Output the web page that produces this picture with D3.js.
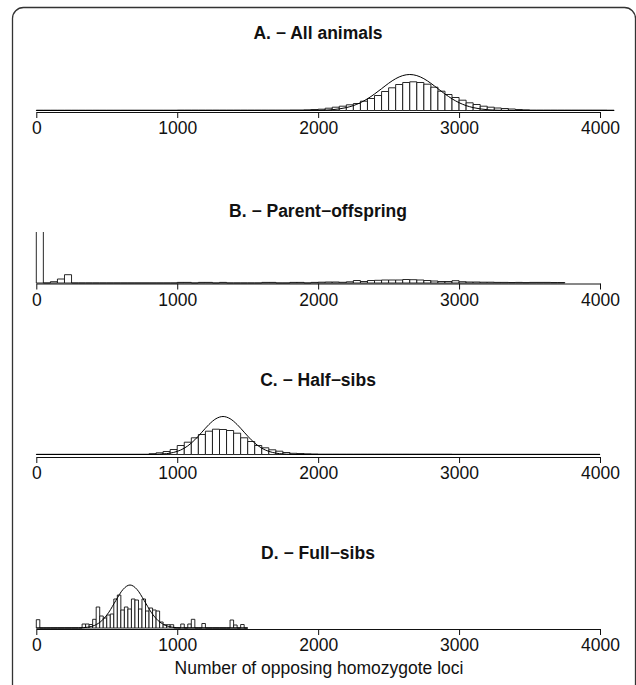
<!DOCTYPE html>
<html>
<head>
<meta charset="utf-8">
<script src="https://cdn.jsdelivr.net/npm/d3@7"></script>
<style>
  body { margin: 0; background: #fff; }
  svg { display: block; font-family: "Liberation Sans", Arial, sans-serif; }
</style>
</head>
<body>
<div class="chart"></div>
<script>
// Data (bar heights are relative frequencies)
const titles = ["A. \u2212 All animals", "B. \u2212 Parent\u2212offspring", "C. \u2212 Half\u2212sibs", "D. \u2212 Full\u2212sibs"];
const tickValues = [0, 1000, 2000, 3000, 4000];
const xLabel = "Number of opposing homozygote loci";

// A - all animals, bins of 50 starting at 0
const binWidthA = 50;
const freqA = [
  0.3, 0.3, 0.3, 0.3, 0.3, 0.3, 0.3, 0.3, 0.3, 0.3,
  0.3, 0.3, 0.3, 0.3, 0.3, 0.3, 0.3, 0.3, 0.3, 0.3,
  0.4, 0.4, 0.4, 0.4, 0.4, 0.4, 0.4, 0.4, 0.4, 0.4,
  0.4, 0.4, 0.4, 0.4, 0.4, 0.4, 0.5, 0.5, 0.7, 1.0,
  1.3, 2.3, 3.3, 4.3, 5.7, 7.0, 9.3, 12, 15, 19,
  22.7, 26, 28, 28.7, 28, 26.3, 23.3, 19.3, 16, 13,
  10.3, 7.7, 6, 4.3, 3.3, 2.5, 2, 1.5, 1, 0.7,
  0.4, 0.4, 0.4, 0.4, 0.4, 0.4, 0.4, 0.4, 0.4, 0.4,
  0.4, 0.3
];
const curveXA = [0, 1900, 2000, 2100, 2150, 2200, 2250, 2300, 2350, 2400, 2450, 2500, 2550, 2600, 2650,
  2700, 2750, 2800, 2850, 2900, 2950, 3000, 3050, 3100, 3150, 3200, 3300, 3400, 4100];
const curveYA = [0, 0.03, 0.18, 0.8, 1.6, 2.9, 4.9, 7.8, 11.7, 16.5, 21.8, 27.2, 31.8, 34.9, 36,
  34.9, 31.8, 27.2, 21.8, 16.5, 11.7, 7.8, 4.9, 2.9, 1.6, 0.8, 0.18, 0.03, 0];

// B - parent-offspring, bins of 50 starting at 0 (first bin is far off the scale)
const binWidthB = 50;
const freqB = [
  400, 0, 1.3, 4, 8.3, 0, 0, 0, 0, 0,
  0, 0, 0, 0, 0, 0, 0, 0, 0, 0,
  0.6, 0.6, 0, 0.6, 0.6, 0, 0.6, 0, 0, 0,
  0, 0, 0.6, 0.6, 0, 0, 0.6, 0.6, 0, 0.6,
  0.8, 1, 1, 0.7, 1.2, 2.5, 1.5, 2.5, 2.7, 3,
  3, 3, 3.5, 3.3, 3, 2.5, 2, 1.5, 1.5, 2.3,
  1.3, 1, 1, 0.8, 0.8, 0.6, 0.6, 0.5, 0.6, 0.4,
  0.6, 0.6, 0.6, 0.5, 0.5
];

// C - half-sibs, bins of 50 starting at 0
const binWidthC = 50;
const freqC = [
  0.2, 0.2, 0.2, 0.2, 0.2, 0.2, 0.2, 0.2, 0.2, 0.2,
  0.2, 0.2, 0.2, 0.2, 0.2, 0.2, 0.8, 1.7, 3, 5,
  9, 12.3, 16.7, 20, 23.3, 25.3, 25, 24, 21.3, 16.7,
  13, 9, 6.7, 4.7, 3.3, 2, 1.2, 1, 0.7, 0.5,
  0.3, 0.3, 0.3, 0.3, 0.3, 0.3, 0.3, 0.3, 0.3, 0.3,
  0.3, 0.3, 0.3, 0.3, 0.3, 0.3, 0.3, 0.3, 0.3, 0.2,
  0.2, 0.2, 0.2, 0.2, 0.2, 0.2, 0.2, 0.2, 0.2, 0.2,
  0.2, 0.2, 0.2, 0.2, 0.2, 0.2, 0.2, 0.2, 0.2, 0.2
];
const curveXC = [0, 800, 875, 925, 975, 1025, 1075, 1125, 1175, 1225, 1275, 1325,
  1375, 1425, 1475, 1525, 1575, 1625, 1675, 1725, 1775, 1850, 4000];
const curveYC = [0, 0.05, 0.3, 0.85, 2.1, 4.5, 8.6, 14.7, 22.3, 30, 35.8, 38,
  35.8, 30, 22.3, 14.7, 8.6, 4.5, 2.1, 0.85, 0.3, 0.05, 0];

// D - full-sibs, bins of 25 starting at 0
const binWidthD = 25;
const freqD = [
  8.3, 0, 0, 0, 0, 0, 0, 0, 0, 0,
  0, 0, 0, 4, 4, 3.5, 8.7, 21, 12, 10,
  13, 14, 29, 33, 18, 21, 19, 29, 28, 19,
  29, 17, 20, 18, 17, 6, 3.3, 3.3, 3.3, 0,
  0, 4, 0, 4, 8.7, 0, 0, 4.5, 0, 0,
  0, 0, 0, 0, 0, 8, 3, 0, 3.5, 0
];
const curveXD = [0, 300, 365, 415, 465, 515, 565, 615, 665, 715, 765, 815, 865, 915, 965, 1030, 1500];
const curveYD = [0, 0.1, 0.8, 2.7, 7.3, 15.8, 27.6, 38.5, 43, 38.5, 27.6, 15.8, 7.3, 2.7, 0.8, 0.1, 0];

function drawHistogram(svg, i, freq, binWidth, curveX, curveY, layout) {
    const x = d3.scaleLinear().domain([0, 4000]).range([36.3, 600]);
    const y = d3.scaleLinear().domain([0, 51]).range([layout.base, layout.base - 51]);

    const clipId = "clip" + i;
    svg.append("clipPath").attr("id", clipId)
        .append("rect")
        .attr("x", 0).attr("y", layout.base - 51)
        .attr("width", 636).attr("height", 60);

    const g = svg.append("g").attr("clip-path", `url(#${clipId})`);

    // Bars as paths, so empty bins still draw their flat border
    g.selectAll(".bar")
        .data(freq)
        .enter()
        .append("path")
        .attr("class", "bar")
        .attr("d", (d, k) => {
            const x0 = x(k * binWidth), x1 = x((k + 1) * binWidth);
            return `M${x0},${y(0)}V${y(d)}H${x1}V${y(0)}Z`;
        })
        .attr("fill", "#fff")
        .attr("stroke", "#111")
        .attr("stroke-width", 0.9);

    if (curveX) {
        const line = d3.line()
            .x(d => x(d[0]))
            .y(d => y(d[1]))
            .curve(d3.curveMonotoneX);
        g.append("path")
            .datum(curveX.map((v, k) => [v, curveY[k]]))
            .attr("d", line)
            .attr("fill", "none")
            .attr("stroke", "#000")
            .attr("stroke-width", 1);
    }

    // x axis
    const xAxis = d3.axisBottom(x)
        .tickValues(tickValues)
        .tickFormat(d3.format("d"))
        .tickSize(6).tickSizeOuter(0).tickPadding(4);
    const ax = svg.append("g")
        .attr("transform", `translate(0, ${layout.axis})`)
        .call(xAxis);
    ax.select(".domain").attr("stroke", "#111");
    ax.selectAll(".tick line").attr("stroke", "#111");
    ax.selectAll("text")
        .attr("font-size", 17.5)
        .attr("font-family", "Liberation Sans, Arial, sans-serif")
        .attr("fill", "#111");

    // panel title
    svg.append("text")
        .attr("x", 318)
        .attr("y", layout.title)
        .attr("text-anchor", "middle")
        .attr("font-size", 17.5)
        .attr("font-weight", "bold")
        .attr("fill", "#111")
        .text(titles[i]);
}

const width = 636;
const height = 685;
d3.select(".chart").select("svg").remove();
const svg = d3.select(".chart").append("svg")
    .attr("width", width)
    .attr("height", height);

// outer rounded frame
svg.append("rect")
    .attr("x", 12.5).attr("y", 7.5)
    .attr("width", 623).attr("height", 720)
    .attr("rx", 11).attr("ry", 11)
    .attr("fill", "none")
    .attr("stroke", "#333")
    .attr("stroke-width", 1.3);

drawHistogram(svg, 0, freqA, binWidthA, curveXA, curveYA, { base: 110.5, axis: 112, title: 39 });
drawHistogram(svg, 1, freqB, binWidthB, null, null, { base: 283, axis: 283.5, title: 217 });
drawHistogram(svg, 2, freqC, binWidthC, curveXC, curveYC, { base: 454.5, axis: 457, title: 386 });
drawHistogram(svg, 3, freqD, binWidthD, curveXD, curveYD, { base: 628, axis: 629, title: 559 });

svg.append("text")
    .attr("x", 319)
    .attr("y", 674)
    .attr("text-anchor", "middle")
    .attr("font-size", 17.5)
    .attr("fill", "#111")
    .text(xLabel);
</script>
</body>
</html>
